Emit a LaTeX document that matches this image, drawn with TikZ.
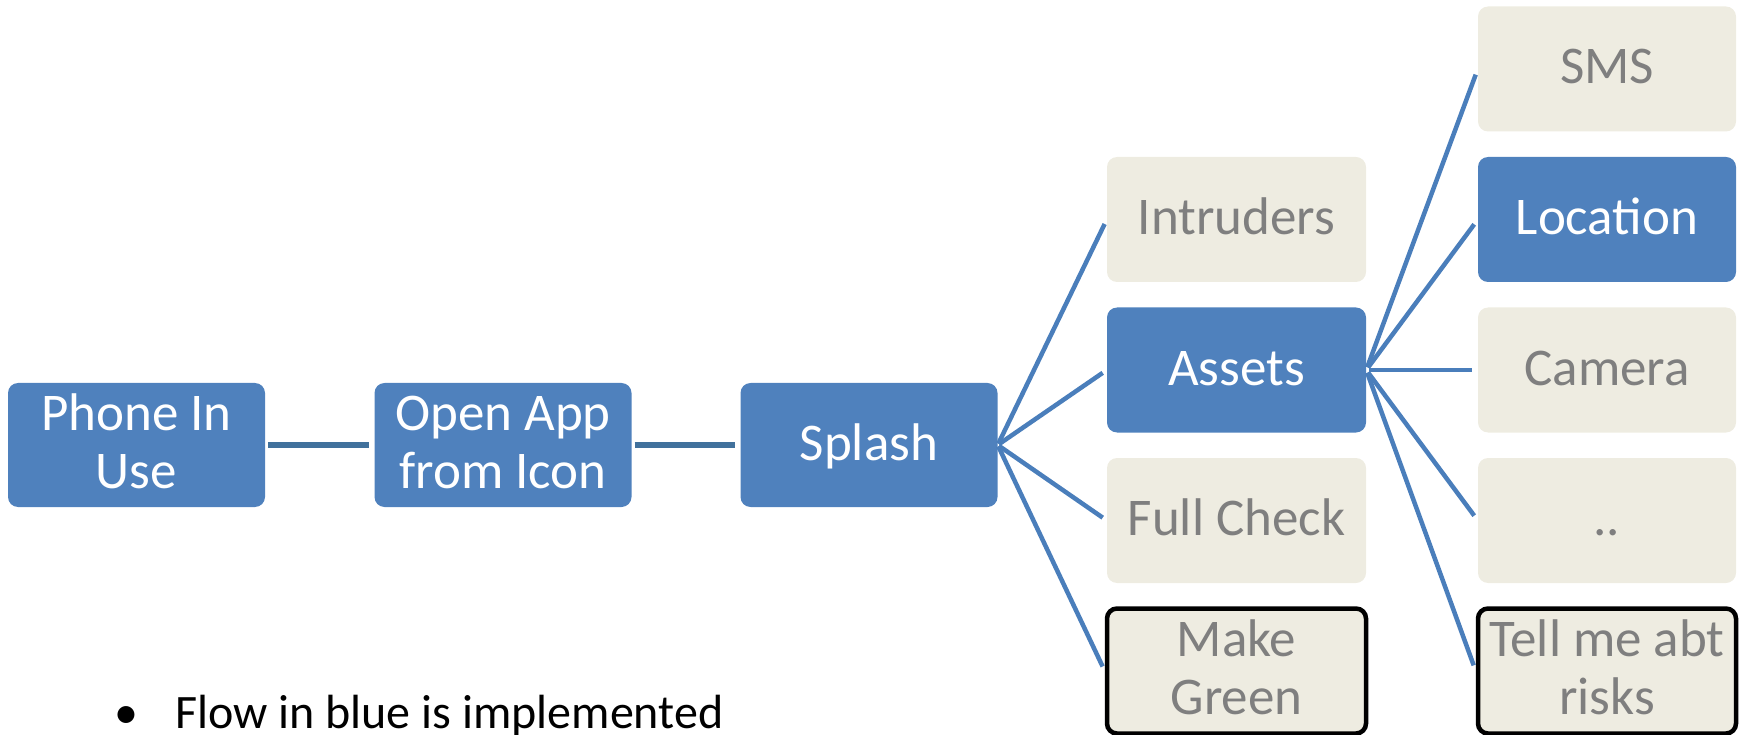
\documentclass[tikz,border=0pt]{standalone}
\usepackage{fontspec}
\setmainfont{Carlito}
\definecolor{boxblue}{HTML}{4F81BD}
\definecolor{boxbeige}{HTML}{EEECE1}
\definecolor{txtgray}{HTML}{7F7F7F}
\definecolor{linkdark}{HTML}{41719C}
\definecolor{fanblue}{HTML}{4A7EBB}
\begin{document}
\begin{tikzpicture}[x=1pt,y=-1pt,
  box/.style={rectangle, rounded corners=10pt, minimum width=257pt, minimum height=125pt,
    inner sep=0pt, font=\fontsize{53}{58.5}\selectfont, align=center,
    text height=40pt, text depth=10pt},
  bluebox/.style={box, fill=boxblue, text=white},
  greybox/.style={box, fill=boxbeige, text=txtgray},
  twoline/.style={text height=97pt, text depth=10pt},
  outlined/.style={draw=black, line width=4.5pt},
  toplink/.style={draw=linkdark, line width=5.5pt, shorten <=3pt, shorten >=5pt},
  fanlink/.style={draw=fanblue, line width=4.5pt, shorten <=1.5pt, shorten >=5pt},
  fanlinkb/.style={draw=fanblue, line width=4.5pt, shorten <=3pt, shorten >=6pt},
  bullettxt/.style={font=\fontsize{48}{56}\selectfont, text=black, inner sep=0pt}
]
\useasboundingbox (0,0) rectangle (1741,735);

% first row
\node[bluebox, twoline, minimum height=124pt] (phone) at (136.5,445) {Phone In\\Use};
\node[bluebox, twoline, minimum height=124pt] (open) at (503,445) {Open App\\from Icon};
\node[bluebox, minimum height=124pt] (splash) at (869,445) {Splash};

% second column
\node[greybox, minimum width=259pt] (intr) at (1236.5,219.5) {Intruders};
\node[bluebox, minimum width=259pt] (assets) at (1236.5,370) {Assets};
\node[greybox, minimum width=259pt] (full) at (1236.5,520.5) {Full Check};
\node[greybox, twoline, outlined, minimum width=259pt] (green) at (1236.5,671) {Make\\Green};

% third column
\node[greybox, minimum width=258pt] (sms) at (1607,69) {SMS};
\node[bluebox, minimum width=258pt] (loc) at (1607,219.5) {Location};
\node[greybox, minimum width=258pt] (cam) at (1607,370) {Camera};
\node[greybox, minimum width=258pt] (dots) at (1607,520.5) {..};
\node[greybox, twoline, outlined, minimum width=258pt] (tell) at (1607,671) {Tell me abt\\risks};

% connectors
\draw[toplink] (phone.east) -- (open.west);
\draw[toplink] (open.east) -- (splash.west);

\draw[fanlink] (splash.east) -- (intr.west);
\draw[fanlink] (splash.east) -- (assets.west);
\draw[fanlink] (splash.east) -- (full.west);
\draw[fanlink] (splash.east) -- (green.west);

\draw[fanlinkb] (assets.east) -- (sms.west);
\draw[fanlinkb] (assets.east) -- (loc.west);
\draw[fanlinkb] (assets.east) -- (cam.west);
\draw[fanlinkb] (assets.east) -- (dots.west);
\draw[fanlinkb] (assets.east) -- (tell.west);

% bullet note
\node[bullettxt, anchor=base] (bul) at (126.5,728) {•};
\node[bullettxt, anchor=base west] (note) at (175,728) {Flow in blue is implemented};
\end{tikzpicture}
\end{document}
